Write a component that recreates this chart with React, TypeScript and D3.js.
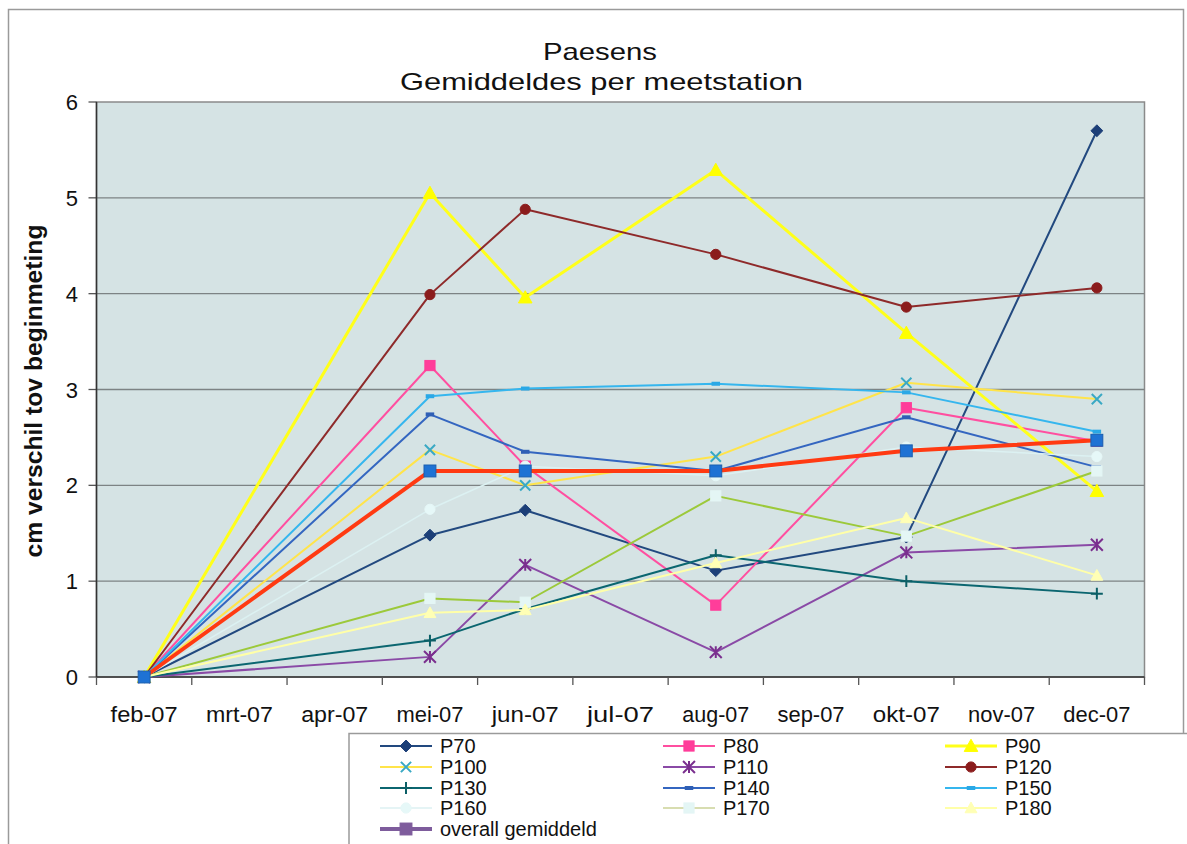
import React from "react";
import * as d3 from "d3";

const categories = ["feb-07","mrt-07","apr-07","mei-07","jun-07","jul-07","aug-07","sep-07","okt-07","nov-07","dec-07"];
const measureDates = ["feb-07","mei-07","jun-07","aug-07","okt-07","dec-07"];
const yTicks = [0,1,2,3,4,5,6];

const P70 = [0, 1.48, 1.74, 1.11, 1.46, 5.70];
const P80 = [0, 3.25, 2.2, 0.75, 2.81, 2.46];
const P90 = [0, 5.05, 3.96, 5.29, 3.59, 1.94];
const P100 = [0, 2.37, 2.0, 2.3, 3.07, 2.9];
const P110 = [0, 0.21, 1.17, 0.26, 1.3, 1.38];
const P120 = [0, 3.99, 4.88, 4.41, 3.86, 4.06];
const P130 = [0, 0.38, 0.71, 1.27, 1.0, 0.87];
const P140 = [0, 2.74, 2.35, 2.15, 2.71, 2.19];
const P150 = [0, 2.93, 3.01, 3.06, 2.97, 2.56];
const P160 = [0, 1.75, 2.2, 2.1, 2.4, 2.3];
const P170 = [0, 0.82, 0.78, 1.89, 1.47, 2.15];
const P180 = [0, 0.67, 0.7, 1.19, 1.66, 1.06];
const overall = [0, 2.15, 2.15, 2.15, 2.36, 2.47];

type S = { name: string; values: number[]; color: string; width: number; marker: string; mfill: string; mstroke: string; msize: number; legColor?: string; legMarker?: string; legFill?: string };

const series: S[] = [
  { name: "P70", values: P70, color: "#22497F", width: 2, marker: "diamond", mfill: "#1C3F78", mstroke: "#1C3F78", msize: 7 },
  { name: "P80", values: P80, color: "#FF4FA0", width: 2, marker: "square", mfill: "#FF3D9A", mstroke: "#FF3D9A", msize: 6 },
  { name: "P90", values: P90, color: "#FFFF1A", width: 3, marker: "triangle", mfill: "#FFFF00", mstroke: "#FFFF00", msize: 8 },
  { name: "P100", values: P100, color: "#FFE44A", width: 2, marker: "x", mfill: "none", mstroke: "#3AA9C4", msize: 6 },
  { name: "P110", values: P110, color: "#8A4AA6", width: 2, marker: "asterisk", mfill: "none", mstroke: "#7A2F8E", msize: 7 },
  { name: "P120", values: P120, color: "#8E2A2A", width: 2, marker: "circle", mfill: "#8B1C1C", mstroke: "#8B1C1C", msize: 6 },
  { name: "P130", values: P130, color: "#0B6670", width: 2, marker: "plus", mfill: "none", mstroke: "#0B5F66", msize: 7 },
  { name: "P140", values: P140, color: "#3466C0", width: 2, marker: "dash", mfill: "#2F5FB5", mstroke: "#2F5FB5", msize: 5 },
  { name: "P150", values: P150, color: "#35B6EE", width: 2, marker: "dash", mfill: "#2AA8E6", mstroke: "#2AA8E6", msize: 5 },
  { name: "P160", values: P160, color: "#DCF1F2", width: 1.5, marker: "circle", mfill: "#E6F8F8", mstroke: "#E6F8F8", msize: 6 },
  { name: "P170", values: P170, color: "#9CC93A", width: 2, marker: "square", mfill: "#E4F6F5", mstroke: "#E4F6F5", msize: 6, legColor: "#D8DDB0" },
  { name: "P180", values: P180, color: "#FFFFA8", width: 2, marker: "triangle", mfill: "#FFFFB5", mstroke: "#FFFFB5", msize: 7 },
  { name: "overall gemiddeld", values: overall, color: "#FF3A12", width: 4, marker: "square", mfill: "#1E72D4", mstroke: "#1A5FB0", msize: 7, legColor: "#7E5C9C", legFill: "#7E5C9C" },
];

const FONT = "'Liberation Sans', Arial, sans-serif";

const x = d3.scaleBand<string>().domain(categories).range([96.5, 1144.5]).paddingInner(0).paddingOuter(0);
const y = d3.scaleLinear().domain([0, 6]).range([677, 102]);
const cx = (c: string) => (x(c) as number) + x.bandwidth() / 2;

function Marker({ type, px, py, s, fill, stroke }: { type: string; px: number; py: number; s: number; fill: string; stroke: string }) {
  switch (type) {
    case "diamond":
      return <path d={`M${px},${py - s} L${px + s},${py} L${px},${py + s} L${px - s},${py} Z`} fill={fill} stroke={stroke} />;
    case "square":
      return <rect x={px - s} y={py - s} width={2 * s} height={2 * s} fill={fill} stroke={stroke} />;
    case "triangle":
      return <path d={`M${px},${py - s} L${px + s},${py + s * 0.8} L${px - s},${py + s * 0.8} Z`} fill={fill} stroke={stroke} />;
    case "circle":
      return <circle cx={px} cy={py} r={s} fill={fill} stroke={stroke} />;
    case "x":
      return <path d={`M${px - s},${py - s} L${px + s},${py + s} M${px - s},${py + s} L${px + s},${py - s}`} stroke={stroke} strokeWidth={2} fill="none" />;
    case "asterisk":
      return <path d={`M${px - s},${py - s} L${px + s},${py + s} M${px - s},${py + s} L${px + s},${py - s} M${px},${py - s} L${px},${py + s}`} stroke={stroke} strokeWidth={2} fill="none" />;
    case "plus":
      return <path d={`M${px - s},${py} L${px + s},${py} M${px},${py - s} L${px},${py + s}`} stroke={stroke} strokeWidth={2} fill="none" />;
    case "dash":
      return <rect x={px - s} y={py - 2} width={2 * s} height={4} fill={fill} stroke="none" />;
    default:
      return null;
  }
}

export default function App() {
  const line = d3.line<number>().x((_, i) => cx(measureDates[i])).y((v) => y(v));
  const legCols = [380, 663, 945];
  const legRows = [746, 767, 788, 808, 829];
  const plotL = 96.5, plotR = 1144.5, plotT = 102, plotB = 677;

  return (
    <svg width={1187} height={844} style={{ position: "absolute", left: 0, top: 0, background: "#fff" }} fontFamily={FONT}>
      {/* outer chart border */}
      <rect x={8.5} y={9.5} width={1175} height={850} fill="none" stroke="#9a9a9a" strokeWidth={1.5} />

      {/* title */}
      <text x={600} y={60} textAnchor="middle" fontSize={24} textLength={114} lengthAdjust="spacingAndGlyphs" fill="#111">Paesens</text>
      <text x={601.5} y={90} textAnchor="middle" fontSize={24} textLength={403} lengthAdjust="spacingAndGlyphs" fill="#111">Gemiddeldes per meetstation</text>

      {/* plot area */}
      <rect x={plotL} y={plotT} width={plotR - plotL} height={plotB - plotT} fill="#D5E3E4" stroke="#8a8a8a" strokeWidth={1.5} />
      {yTicks.map((t) => (
        <g key={t}>
          {t > 0 && t < 6 && <line x1={plotL} x2={plotR} y1={y(t)} y2={y(t)} stroke="#7d8384" strokeWidth={1.3} />}
          <line x1={plotL - 8} x2={plotL} y1={y(t)} y2={y(t)} stroke="#555" strokeWidth={1.3} />
          <text x={78} y={y(t) + 8} textAnchor="end" fontSize={22} fill="#111">{t}</text>
        </g>
      ))}
      <line x1={plotL} x2={plotL} y1={plotT} y2={plotB} stroke="#333" strokeWidth={1.5} />
      <line x1={plotL} x2={plotR} y1={plotB} y2={plotB} stroke="#333" strokeWidth={1.5} />
      {categories.map((c, i) => (
        <g key={c}>
          <line x1={x(c) as number} x2={x(c) as number} y1={plotB} y2={plotB + 8} stroke="#555" strokeWidth={1.3} />
          {i === categories.length - 1 && <line x1={plotR} x2={plotR} y1={plotB} y2={plotB + 8} stroke="#555" strokeWidth={1.3} />}
          <text x={cx(c)} y={722} textAnchor="middle" fontSize={22} textLength={67} lengthAdjust="spacingAndGlyphs" fill="#111">{c}</text>
        </g>
      ))}

      {/* y label */}
      <text transform={`translate(42,391) rotate(-90)`} textAnchor="middle" fontSize={23} fontWeight="bold" textLength={333} lengthAdjust="spacingAndGlyphs" fill="#111">cm verschil tov beginmeting</text>

      {/* series */}
      {series.map((s) => (
        <g key={s.name}>
          <path d={line(s.values) as string} fill="none" stroke={s.color} strokeWidth={s.width} strokeLinejoin="round" />
          {s.values.map((v, i) => (
            <Marker key={i} type={s.marker} px={cx(measureDates[i])} py={y(v)} s={s.msize * 0.85} fill={s.mfill} stroke={s.mstroke} />
          ))}
        </g>
      ))}

      {/* legend */}
      <rect x={349} y={733.5} width={860} height={130} fill="#fff" stroke="#9a9a9a" strokeWidth={1.5} />
      {series.map((s, i) => {
        const col = i === 12 ? 0 : i % 3;
        const row = i === 12 ? 4 : Math.floor(i / 3);
        const lx = legCols[col];
        const ly = legRows[row];
        const lc = s.legColor ?? s.color;
        return (
          <g key={s.name}>
            <line x1={lx} x2={lx + 52} y1={ly} y2={ly} stroke={lc} strokeWidth={s.name === "overall gemiddeld" ? 4 : s.width} />
            <Marker type={s.marker} px={lx + 26} py={ly} s={s.msize * 0.85} fill={s.legFill ?? s.mfill} stroke={s.legFill ?? s.mstroke} />
            <text x={lx + 60} y={ly + 7} fontSize={20} fill="#111">{s.name}</text>
          </g>
        );
      })}
    </svg>
  );
}
